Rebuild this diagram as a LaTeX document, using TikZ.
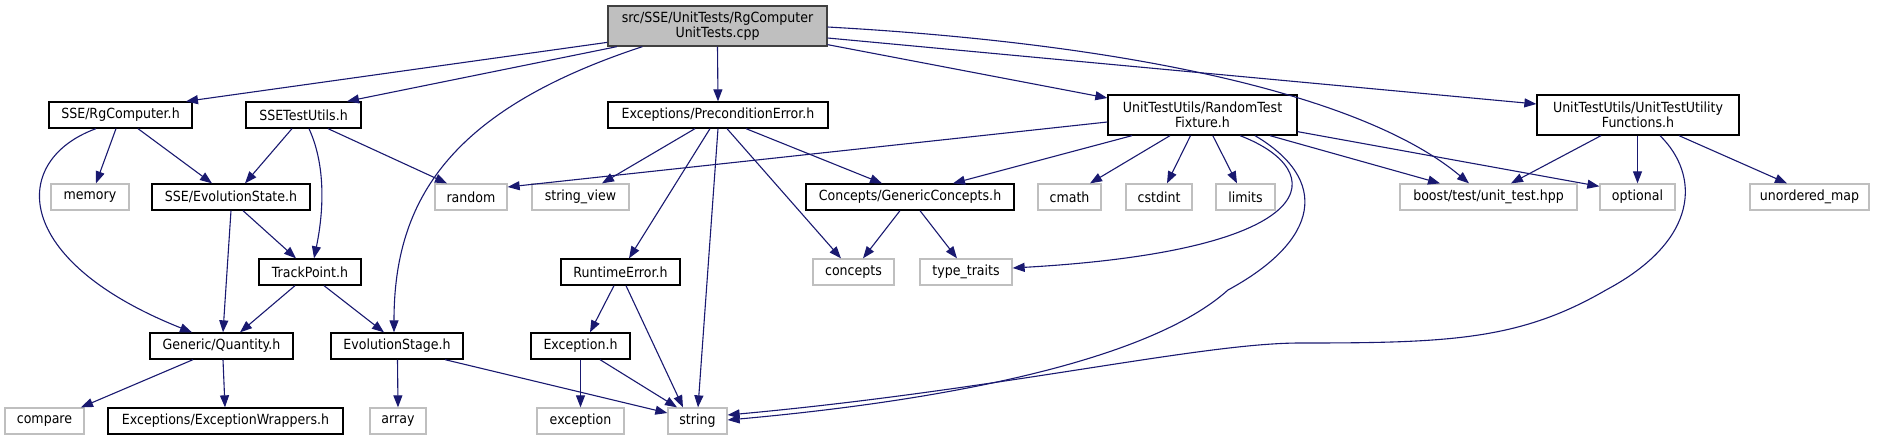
\documentclass[tikz,border=0pt]{standalone}
\usepackage{fontspec}
\setmainfont{DejaVu Sans}[FakeStretch=0.9]
\usetikzlibrary{arrows.meta}
\definecolor{edgec}{HTML}{191970}
\definecolor{grayb}{HTML}{BFBFBF}
\definecolor{rootb}{HTML}{404040}
\tikzset{
  dnode/.style={draw=black, line width=1.3pt, fill=white, minimum height=26pt, inner sep=0pt, font=\fontsize{14}{15.5}\selectfont},
  snode/.style={dnode, draw=grayb},
  dnodetwo/.style={dnode, minimum height=40pt, align=center},
  dep/.style={draw=edgec, line width=1.1pt, -{Triangle[length=12pt,width=9pt]}}
}
\begin{document}
\begin{tikzpicture}[x=1pt,y=-1pt]
\useasboundingbox (0,0) rectangle (1880,440);
% row 0
\node[dnodetwo, fill=grayb, draw=rootb, minimum width=219pt] (root) at (717.5,26) {src/SSE/UnitTests/RgComputer\\UnitTests.cpp};
% row 1
\node[dnode, minimum width=143pt] (rgc) at (120.5,115) {SSE/RgComputer.h};
\node[dnode, minimum width=115pt] (sse) at (303.5,115) {SSETestUtils.h};
\node[dnode, minimum width=220pt] (pre) at (718,115) {Exceptions/PreconditionError.h};
\node[dnodetwo, minimum width=189pt] (rtf) at (1202.5,115) {UnitTestUtils/RandomTest\\Fixture.h};
\node[dnodetwo, minimum width=202pt] (utuf) at (1638,115) {UnitTestUtils/UnitTestUtility\\Functions.h};
% row 2
\node[snode, minimum width=78pt] (mem) at (90,197) {memory};
\node[dnode, minimum width=158pt] (evs) at (231,197) {SSE/EvolutionState.h};
\node[snode, minimum width=72pt] (rnd) at (471,197) {random};
\node[snode, minimum width=97pt] (sv) at (580.5,197) {string\_view};
\node[dnode, minimum width=208pt] (gc) at (910,197) {Concepts/GenericConcepts.h};
\node[snode, minimum width=63pt] (cmath) at (1069.5,197) {cmath};
\node[snode, minimum width=66pt] (cstdint) at (1159,197) {cstdint};
\node[snode, minimum width=59pt] (limits) at (1245.5,197) {limits};
\node[snode, minimum width=177pt] (boost) at (1488.5,197) {boost/test/unit\_test.hpp};
\node[snode, minimum width=75pt] (opt) at (1637.5,197) {optional};
\node[snode, minimum width=119pt] (umap) at (1809.5,197) {unordered\_map};
% row 3
\node[dnode, minimum width=102pt] (tp) at (310,272) {TrackPoint.h};
\node[dnode, minimum width=119pt] (rte) at (620.5,272) {RuntimeError.h};
\node[snode, minimum width=81pt] (conc) at (853.5,272) {concepts};
\node[snode, minimum width=92pt] (tt) at (966,272) {type\_traits};
% row 4
\node[dnode, minimum width=143pt] (gq) at (221.5,346) {Generic/Quantity.h};
\node[dnode, minimum width=132pt] (est) at (397,346) {EvolutionStage.h};
\node[dnode, minimum width=99pt] (exc) at (580.5,346) {Exception.h};
% row 5
\node[snode, minimum width=79pt] (cmp) at (44.5,421) {compare};
\node[dnode, minimum width=235pt] (ew) at (225.5,421) {Exceptions/ExceptionWrappers.h};
\node[snode, minimum width=56pt] (arr) at (398,421) {array};
\node[snode, minimum width=87pt] (excs) at (580.5,421) {exception};
\node[snode, minimum width=59pt] (str) at (697.5,421) {string};
% edges from root
\draw[dep] ([yshift=4.3pt]root.south west) -- ([xshift=65.5pt]rgc.north);
\draw[dep] ([xshift=9.5pt]root.south west) -- ([xshift=43.5pt]sse.north);
\draw[dep] ([xshift=35pt]root.south west) .. controls (450,110) and (394,200) .. ([xshift=-3pt]est.north);
\draw[dep] (root.south) -- (pre.north);
\draw[dep] ([yshift=2pt]root.south east) -- ([yshift=17pt]rtf.west);
\draw[dep] ([yshift=-12pt]root.east) -- ([yshift=11pt]utuf.west);
\draw[dep] ([yshift=-1pt]root.east) .. controls (1150,45) and (1370,100) .. ([xshift=-19.5pt]boost.north);
% rgc
\draw[dep] ([xshift=-4.5pt]rgc.south) -- ([xshift=6pt]mem.north);
\draw[dep] ([xshift=17.5pt]rgc.south) -- ([xshift=-19pt]evs.north);
\draw[dep] ([xshift=-24.5pt]rgc.south) .. controls (10,160) and (10,260) .. ([xshift=-29.5pt]gq.north);
% sse
\draw[dep] ([xshift=-11.5pt]sse.south) -- ([xshift=14pt]evs.north);
\draw[dep] ([xshift=5.5pt]sse.south) .. controls (328,170) and (322,220) .. ([xshift=4pt]tp.north);
\draw[dep] ([xshift=24.5pt]sse.south) -- ([xshift=-24pt]rnd.north);
% evs
\draw[dep] ([xshift=12pt]evs.south) -- ([xshift=-14pt]tp.north);
\draw[dep] (evs.south) -- ([xshift=1.5pt]gq.north);
% tp
\draw[dep] ([xshift=-15pt]tp.south) -- ([xshift=18.5pt]gq.north);
\draw[dep] ([xshift=14pt]tp.south) -- ([xshift=-13pt]est.north);
% gq
\draw[dep] ([xshift=-28.5pt]gq.south) -- ([xshift=36.5pt]cmp.north);
\draw[dep] ([xshift=1.5pt]gq.south) -- ([xshift=-0.5pt]ew.north);
% est
\draw[dep] ([xshift=0.5pt]est.south) -- (arr.north);
\draw[dep] ([xshift=48pt]est.south) -- ([yshift=8pt]str.west);
% exc
\draw[dep] (exc.south) -- (excs.north);
\draw[dep] ([xshift=19.5pt]exc.south) -- ([xshift=-20.5pt]str.north);
% rte
\draw[dep] ([xshift=-6.5pt]rte.south) -- ([xshift=9.5pt]exc.north);
\draw[dep] ([xshift=5.5pt]rte.south) -- ([xshift=-14.5pt]str.north);
% pre
\draw[dep] ([xshift=-23pt]pre.south) -- ([xshift=21.5pt]sv.north);
\draw[dep] ([xshift=-8pt]pre.south) -- ([xshift=8.5pt]rte.north);
\draw[dep] (pre.south) -- ([xshift=0.5pt]str.north);
\draw[dep] ([xshift=9pt]pre.south) -- ([xshift=-12.5pt]conc.north);
\draw[dep] ([xshift=28pt]pre.south) -- ([xshift=-28pt]gc.north);
% rtf
\draw[dep] ([yshift=-7pt]rtf.west) -- ([yshift=10pt]rnd.east);
\draw[dep] ([xshift=-70.5pt]rtf.south) -- ([xshift=43pt]gc.north);
\draw[dep] ([xshift=-32.5pt]rtf.south) -- ([xshift=20.5pt]cmath.north);
\draw[dep] ([xshift=-12pt]rtf.south) -- ([xshift=8pt]cstdint.north);
\draw[dep] ([xshift=10.3pt]rtf.south) -- ([xshift=-8.5pt]limits.north);
\draw[dep] ([xshift=37.5pt]rtf.south) .. controls (1330,170) and (1330,250) .. ([yshift=4pt]tt.east);
\draw[dep] ([xshift=52.5pt]rtf.south) .. controls (1330,180) and (1320,240) .. (1228,290) .. controls (1150,360) and (950,400) .. ([yshift=1pt]str.east);
\draw[dep] ([xshift=67.5pt]rtf.south) -- ([xshift=-48.5pt]boost.north);
\draw[dep] ([yshift=4pt]rtf.south east) -- ([yshift=-3pt]opt.north west);
% utuf
\draw[dep] ([xshift=-37pt]utuf.south) -- ([xshift=22.5pt]boost.north);
\draw[dep] ([xshift=-0.5pt]utuf.south) -- (opt.north);
\draw[dep] ([xshift=22pt]utuf.south) .. controls (1700,175) and (1700,240) .. (1606,290) .. controls (1520,340) and (1450,343) .. (1300,343) .. controls (1200,343) and (1000,390) .. ([yshift=6pt]str.east);
\draw[dep] ([xshift=41pt]utuf.south) -- ([xshift=-22.5pt]umap.north);
% gc
\draw[dep] ([xshift=-10pt]gc.south) -- ([xshift=9.5pt]conc.north);
\draw[dep] ([xshift=10pt]gc.south) -- ([xshift=-9pt]tt.north);
\end{tikzpicture}
\end{document}
